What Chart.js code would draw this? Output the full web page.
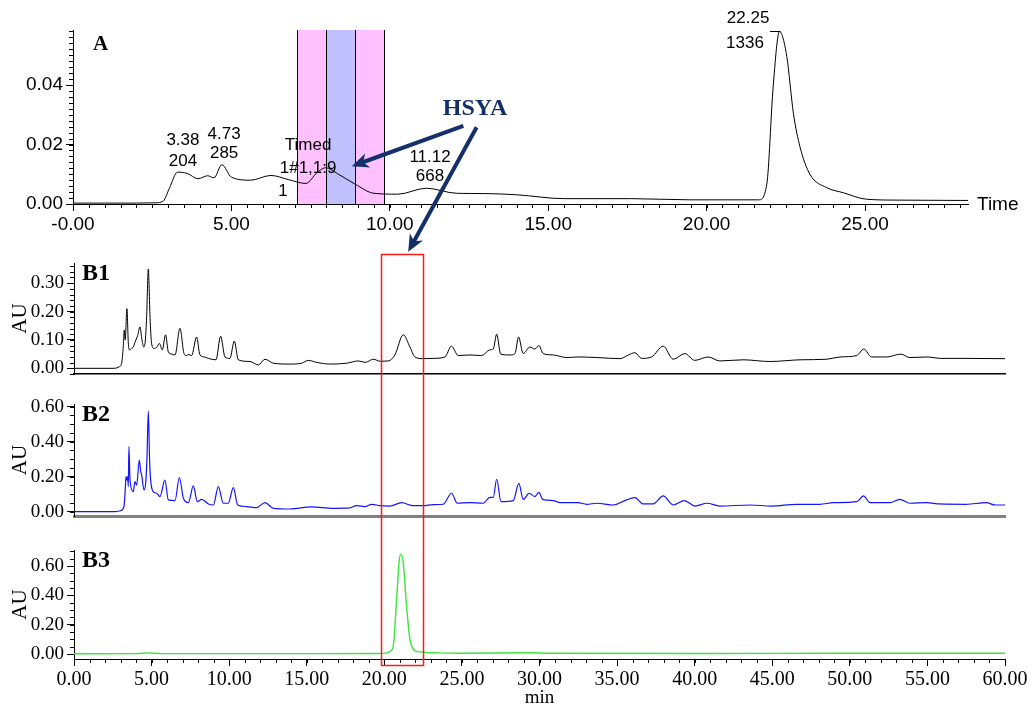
<!DOCTYPE html>
<html>
<head>
<meta charset="utf-8">
<title>HSYA chromatograms</title>
<script src="https://cdn.jsdelivr.net/npm/chart.js@4.4.1/dist/chart.umd.min.js"></script>
<style>
  body { margin: 0; background: #fff; }
  #page { position: relative; width: 1033px; height: 708px; overflow: hidden; }
  .panel { position: absolute; left: 0; }
  #overlay { position: absolute; left: 0; top: 0; z-index: 5; pointer-events: none; }
</style>
</head>
<body>
<div id="page">
  <canvas class="panel" id="chartA" width="1033" height="245" style="top:0px"></canvas>
  <canvas class="panel" id="chartB1" width="1033" height="130" style="top:250px"></canvas>
  <canvas class="panel" id="chartB2" width="1033" height="135" style="top:390px"></canvas>
  <canvas class="panel" id="chartB3" width="1033" height="168" style="top:540px"></canvas>
  <canvas id="overlay" width="1033" height="708"></canvas>
</div>
<script>
// ---- panel A (preparative run) ----
const aTime = [0, 1, 2, 2.6, 2.85, 3.05, 3.3, 3.6, 3.95, 4.25, 4.45, 4.7, 5.0, 5.6, 6.25, 6.8, 7.35, 7.7, 7.98,
  8.35, 8.9, 9.5, 10.25, 11.15, 12.1, 13.0, 14.0, 15.5, 17.6, 19.5, 21.65, 21.9, 22.1, 22.3, 22.53, 22.74,
  22.95, 23.26, 23.79, 24.31, 25.05, 26.1, 28.0, 28.25];
const aAbs = [0.0003, 0.0003, 0.0003, 0.0004, 0.001, 0.0055, 0.0107, 0.0103, 0.0085, 0.0095, 0.0088, 0.0132,
  0.009, 0.008, 0.0096, 0.0082, 0.0069, 0.0105, 0.0122, 0.0102, 0.0067, 0.0036, 0.0033, 0.0053, 0.0036,
  0.0035, 0.0031, 0.0018, 0.0018, 0.0014, 0.0014, 0.0067, 0.0394, 0.058, 0.0496, 0.0304, 0.0191, 0.010,
  0.0055, 0.0038, 0.0016, 0.0013, 0.0012, 0.0012];
const aTicksX = [0, 5, 10, 15, 20, 25];
const aTicksY = [0, 0.02, 0.04];
const bandEdges = [7.07, 7.99, 8.9, 9.82];
const bandColors = ['#ffc0ff', '#c0c0ff', '#ffc0ff'];
const peakText = ['3.38', '204', '4.73', '285', 'Timed', '1#1,1:9', '1', '11.12', '668', '22.25', '1336'];
const peakTextX = [3.47, 3.47, 4.77, 4.77, 7.42, 7.42, 6.63, 11.27, 11.27, 21.31, 21.21];
const peakTextY = [0.0213, 0.0143, 0.0233, 0.017, 0.0197, 0.012, 0.0043, 0.0157, 0.0093, 0.0623, 0.054];
const leaderX = [22.0, 22.33];
const leaderY = 0.058;

// ---- panels B1-B3 (analytical runs) ----
const b1Time = [0, 2.6, 2.9, 3.07, 3.18, 3.24, 3.3, 3.41, 3.5, 3.57, 3.7, 3.82, 3.92, 3.99, 4.1, 4.25, 4.38,
  4.5, 4.6, 4.68, 4.79, 4.9, 5.0, 5.16, 5.35, 5.5, 5.69, 5.9, 6.08, 6.3, 6.51, 6.83, 7.09, 7.25, 7.37, 7.58,
  7.9, 8.12, 8.4, 8.66, 9.15, 9.45, 9.73, 10.05, 10.33, 10.59, 11.34, 11.88, 12.31, 12.85, 13.92, 14.67,
  15.1, 15.64, 16.5, 17.57, 18.33, 18.76, 19.3, 19.72, 20.25, 20.68, 21.22, 21.65, 21.97, 22.5, 23.15, 23.9,
  24.33, 24.76, 25.52, 26.27, 26.8, 27.02, 27.24, 27.5, 28.1, 28.42, 28.65, 28.95, 29.38, 29.7, 29.96,
  30.24, 30.9, 31.75, 32.5, 33.69, 35.19, 35.73, 36.15, 36.58, 37.22, 37.97, 38.62, 39.37, 40.0, 40.87,
  41.62, 43.13, 44.85, 46.8, 48.51, 49.37, 50.45, 50.9, 51.4, 52.37, 53.29, 53.87, 55.05, 55.8, 57.5, 60];
const b1AU = [0, 0, 0.005, 0.018, 0.08, 0.135, 0.10, 0.21, 0.09, 0.065, 0.07, 0.075, 0.09, 0.10, 0.115, 0.146,
  0.10, 0.075, 0.10, 0.18, 0.35, 0.18, 0.088, 0.07, 0.075, 0.088, 0.065, 0.118, 0.058, 0.05, 0.047, 0.141,
  0.052, 0.045, 0.049, 0.045, 0.11, 0.047, 0.04, 0.035, 0.03, 0.113, 0.04, 0.035, 0.096, 0.03, 0.024, 0.012,
  0.032, 0.018, 0.015, 0.018, 0.028, 0.021, 0.015, 0.018, 0.026, 0.021, 0.032, 0.025, 0.026, 0.047, 0.118,
  0.075, 0.04, 0.034, 0.035, 0.04, 0.078, 0.045, 0.047, 0.045, 0.065, 0.068, 0.12, 0.05, 0.047, 0.052, 0.11,
  0.052, 0.075, 0.068, 0.08, 0.052, 0.047, 0.038, 0.04, 0.038, 0.034, 0.047, 0.055, 0.035, 0.04, 0.078,
  0.032, 0.052, 0.028, 0.04, 0.026, 0.03, 0.024, 0.03, 0.032, 0.04, 0.045, 0.068, 0.04, 0.04, 0.05, 0.038,
  0.04, 0.035, 0.035, 0.034];

const b2Time = [0, 2.6, 3.0, 3.22, 3.3, 3.35, 3.41, 3.46, 3.5, 3.54, 3.6, 3.65, 3.82, 3.93, 4.04, 4.21, 4.3,
  4.36, 4.51, 4.62, 4.7, 4.79, 4.87, 4.94, 5.11, 5.33, 5.54, 5.86, 6.08, 6.51, 6.79, 7.05, 7.37, 7.69, 7.95,
  8.23, 8.66, 8.98, 9.3, 9.62, 9.94, 10.27, 10.55, 11.13, 11.77, 12.31, 12.85, 13.92, 15.31, 16.71, 17.78,
  18.21, 18.75, 19.18, 19.72, 20.36, 21.11, 21.86, 22.5, 23.15, 23.79, 24.33, 24.7, 25.52, 26.37, 26.8,
  27.02, 27.24, 27.52, 28.31, 28.67, 28.95, 29.34, 29.7, 29.96, 30.2, 30.9, 31.32, 32.5, 33.04, 33.69, 34.76,
  35.5, 36.15, 36.69, 37.33, 37.97, 38.62, 39.33, 40.02, 40.8, 41.62, 43.56, 44.95, 46.56, 48.07, 48.93,
  50.45, 50.88, 51.3, 52.59, 53.22, 53.87, 54.94, 55.8, 57.5, 58.8, 59.37, 60];
const b2AU = [0, 0, 0.005, 0.029, 0.12, 0.2, 0.18, 0.2, 0.143, 0.371, 0.2, 0.152, 0.114, 0.171, 0.152, 0.295,
  0.23, 0.21, 0.124, 0.162, 0.3, 0.575, 0.3, 0.18, 0.114, 0.105, 0.086, 0.18, 0.067, 0.063, 0.195, 0.076,
  0.051, 0.147, 0.057, 0.07, 0.044, 0.038, 0.143, 0.048, 0.048, 0.137, 0.038, 0.029, 0.023, 0.051, 0.019,
  0.015, 0.027, 0.019, 0.021, 0.034, 0.029, 0.042, 0.034, 0.032, 0.051, 0.034, 0.034, 0.04, 0.042, 0.105,
  0.048, 0.051, 0.048, 0.082, 0.082, 0.185, 0.057, 0.063, 0.162, 0.07, 0.105, 0.086, 0.11, 0.07, 0.063,
  0.051, 0.051, 0.042, 0.048, 0.038, 0.063, 0.08, 0.044, 0.044, 0.09, 0.038, 0.063, 0.032, 0.048, 0.032,
  0.038, 0.032, 0.042, 0.042, 0.051, 0.057, 0.09, 0.051, 0.051, 0.07, 0.048, 0.051, 0.044, 0.042, 0.051,
  0.038, 0.038];

const b3Time = [0, 4.0, 4.8, 5.6, 10, 15, 19.5, 20.2, 20.4, 20.57, 20.79, 20.96, 21.07, 21.22, 21.43, 21.65,
  21.85, 22.1, 22.5, 23.5, 25, 29.5, 30.5, 40, 50, 60];
const b3AU = [0.002, 0.003, 0.008, 0.003, 0.003, 0.003, 0.004, 0.008, 0.02, 0.05, 0.37, 0.64, 0.682, 0.62,
  0.33, 0.1, 0.035, 0.018, 0.012, 0.008, 0.005, 0.009, 0.005, 0.004, 0.005, 0.005];

const bTicksX = [0, 5, 10, 15, 20, 25, 30, 35, 40, 45, 50, 55, 60];
const b1TicksY = [0, 0.1, 0.2, 0.3];
const b2TicksY = [0, 0.2, 0.4, 0.6];
const b3TicksY = [0, 0.2, 0.4, 0.6];

// HSYA window and arrows (data coordinates)
const boxTime = [19.78, 22.49];
const boxTopAU = 0.4026;      // on the B1 scale
const boxBottomAU = -0.075;   // on the B3 scale
const hsyaPos = [12.69, 0.0319];
const arrow1 = [12.32, 0.0263, 8.8, 0.0127];   // A scale
const arrow2Tail = [12.74, 0.0258];            // A scale
const arrow2Head = [21.54, 0.4107];            // B1 scale

const SANS = "'Liberation Sans', Arial, sans-serif";
const SERIF = "'Liberation Serif', 'Times New Roman', serif";
const NAVY = '#14306b';

function pts(xs, ys) {
  return xs.map((x, i) => ({ x: x, y: ys[i] }));
}

const decor = {
  id: 'decor',
  beforeDatasetsDraw(chart, args, o) {
    if (!o.bands) return;
    const { ctx, chartArea: a } = chart;
    const x = chart.scales.x;
    ctx.save();
    for (let i = 0; i < o.bands.colors.length; i++) {
      const x1 = x.getPixelForValue(o.bands.edges[i]);
      const x2 = x.getPixelForValue(o.bands.edges[i + 1]);
      ctx.fillStyle = o.bands.colors[i];
      ctx.fillRect(x1, a.top, x2 - x1, a.bottom - a.top);
    }
    ctx.strokeStyle = '#000';
    ctx.lineWidth = 1;
    o.bands.edges.forEach(e => {
      const px = Math.round(x.getPixelForValue(e)) + 0.5;
      ctx.beginPath();
      ctx.moveTo(px, a.top);
      ctx.lineTo(px, a.bottom);
      ctx.stroke();
    });
    ctx.restore();
  },
  afterDraw(chart, args, o) {
    const { ctx, chartArea: a } = chart;
    const x = chart.scales.x, y = chart.scales.y;
    ctx.save();
    ctx.strokeStyle = '#000';
    ctx.lineWidth = 1;
    // minor ticks
    ctx.beginPath();
    if (o.minorX) {
      for (let i = Math.ceil(x.min / o.minorX); i * o.minorX <= x.max + 1e-9; i++) {
        const px = Math.round(x.getPixelForValue(i * o.minorX)) + 0.5;
        ctx.moveTo(px, a.bottom);
        ctx.lineTo(px, a.bottom + 4);
      }
    }
    if (o.minorY) {
      for (let i = Math.ceil(y.min / o.minorY); i * o.minorY <= y.max + 1e-9; i++) {
        const py = Math.round(y.getPixelForValue(i * o.minorY)) + 0.5;
        ctx.moveTo(a.left - 4, py);
        ctx.lineTo(a.left, py);
      }
    }
    ctx.stroke();
    // panel letter
    ctx.fillStyle = '#000';
    ctx.textBaseline = 'middle';
    ctx.textAlign = 'left';
    ctx.font = o.panelFont;
    ctx.fillText(o.panel, a.left + o.panelDx, a.top + o.panelDy);
    // peak annotations
    if (o.texts) {
      ctx.font = '17px ' + SANS;
      ctx.textAlign = 'center';
      o.texts.forEach((t, i) => {
        ctx.fillText(t, x.getPixelForValue(o.textX[i]), y.getPixelForValue(o.textY[i]));
      });
      const ly = Math.round(y.getPixelForValue(o.leaderY)) + 0.5;
      ctx.beginPath();
      ctx.moveTo(x.getPixelForValue(o.leaderX[0]), ly);
      ctx.lineTo(x.getPixelForValue(o.leaderX[1]), ly);
      ctx.stroke();
      ctx.textAlign = 'left';
      ctx.font = '19px ' + SANS;
      ctx.fillText('Time', a.right + 9, a.bottom + 1);
    }
    ctx.restore();
  }
};
Chart.register(decor);

function axisX(min, max, ticks, opts) {
  return Object.assign({
    type: 'linear', min: min, max: max,
    afterBuildTicks: s => { s.ticks = ticks.map(v => ({ value: v })); },
    ticks: { autoSkip: false, maxRotation: 0, color: '#000', padding: 2 },
    grid: { drawOnChartArea: false, tickLength: 7, tickColor: '#000' },
    border: { color: '#000', width: 1 }
  }, opts);
}

function axisY(min, max, ticks, font) {
  return {
    min: min, max: max,
    afterBuildTicks: s => { s.ticks = ticks.map(v => ({ value: v })); },
    afterFit: s => { s.width = 74; s.paddingTop = 0; s.paddingBottom = 0; },
    ticks: { callback: v => v.toFixed(2), font: font, color: '#000', padding: 3 },
    grid: { drawOnChartArea: false, tickLength: 7, tickColor: '#000' },
    border: { color: '#000', width: 1 }
  };
}

const chartA = new Chart(document.getElementById('chartA'), {
  type: 'line',
  data: { datasets: [{ data: pts(aTime, aAbs), borderColor: '#000', borderWidth: 1, pointRadius: 0,
    cubicInterpolationMode: 'monotone', clip: false }] },
  options: {
    responsive: false, animation: false, events: [],
    layout: { autoPadding: false, padding: { left: 0, right: 65, top: 30, bottom: 0 } },
    plugins: {
      legend: { display: false }, tooltip: { enabled: false },
      decor: { minorX: 0.5, minorY: 0.002, panel: 'A', panelFont: 'bold 21px ' + SERIF, panelDx: 20, panelDy: 15,
        bands: { edges: bandEdges, colors: bandColors },
        texts: peakText, textX: peakTextX, textY: peakTextY, leaderX: leaderX, leaderY: leaderY }
    },
    scales: {
      x: axisX(0, 28.25, aTicksX, {
        afterFit: s => { s.height = 41; s.paddingLeft = 0; s.paddingRight = 0; },
        ticks: { callback: v => v === 0 ? '-0.00' : v.toFixed(2), font: { family: SANS, size: 19 },
          autoSkip: false, maxRotation: 0, color: '#000', padding: 2 }
      }),
      y: Object.assign(axisY(0, 0.0585, aTicksY, { family: SANS, size: 19 }),
        { afterFit: s => { s.width = 73; s.paddingTop = 0; s.paddingBottom = 0; } })
    }
  }
});

function bChart(id, times, values, color, width, yMin, yMax, yTicks, minorY, panel, padTop, xHeight, xAxisOpts, titleX) {
  const serif = { family: SERIF, size: 19 };
  const y = axisY(yMin, yMax, yTicks, serif);
  y.title = { display: true, text: 'AU', color: '#000', font: { family: SERIF, size: 21 }, padding: { top: 8, bottom: 0 } };
  const x = axisX(0, 60, bTicksX, Object.assign({
    afterFit: s => { s.height = xHeight; s.paddingLeft = 0; s.paddingRight = 0; }
  }, xAxisOpts));
  if (titleX) x.title = { display: true, text: 'min', color: '#000', font: { family: SERIF, size: 19, lineHeight: 1 }, padding: { top: 0, bottom: 0 } };
  return new Chart(document.getElementById(id), {
    type: 'line',
    data: { datasets: [{ data: pts(times, values), borderColor: color, borderWidth: width, pointRadius: 0,
      cubicInterpolationMode: 'monotone', clip: false }] },
    options: {
      responsive: false, animation: false, events: [],
      layout: { autoPadding: false, padding: { left: 0, right: 28, top: padTop, bottom: 0 } },
      plugins: {
        legend: { display: false }, tooltip: { enabled: false },
        decor: { minorX: titleX ? 1 : 0, minorY: minorY, panel: panel, panelFont: 'bold 24px ' + SERIF, panelDx: 8, panelDy: 11 }
      },
      scales: { x: x, y: y }
    }
  });
}

const hiddenX = { ticks: { display: false }, grid: { drawOnChartArea: false, drawTicks: false } };

const chartB1 = bChart('chartB1', b1Time, b1AU, '#000', 1, -0.02, 0.371, b1TicksY, 0.02, 'B1', 13, 6,
  Object.assign({}, hiddenX, { border: { color: '#000', width: 1.5 } }), false);
const chartB2 = bChart('chartB2', b2Time, b2AU, '#1414ff', 1.2, -0.025, 0.615, b2TicksY, 0.05, 'B2', 14, 9,
  Object.assign({}, hiddenX, { border: { color: '#808080', width: 3 } }), false);
const chartB3 = bChart('chartB3', b3Time, b3AU, '#3ae63a', 1.4, -0.034, 0.71, b3TicksY, 0.05, 'B3', 10, 49,
  { ticks: { callback: v => v.toFixed(2), font: { family: SERIF, size: 20 }, autoSkip: false, maxRotation: 0, color: '#000', padding: 2 } }, true);

// ---- overlay: HSYA window and arrows across panels ----
function panelTop(chart) { return chart.canvas.offsetTop; }

function drawArrow(ctx, x1, y1, x2, y2) {
  const ang = Math.atan2(y2 - y1, x2 - x1);
  const head = 17, half = 7.5;
  const bx = x2 - head * Math.cos(ang), by = y2 - head * Math.sin(ang);
  ctx.beginPath();
  ctx.moveTo(x1, y1);
  ctx.lineTo(x2 - 8 * Math.cos(ang), y2 - 8 * Math.sin(ang));
  ctx.stroke();
  ctx.beginPath();
  ctx.moveTo(x2, y2);
  ctx.lineTo(bx + half * Math.sin(ang), by - half * Math.cos(ang));
  ctx.lineTo(x2 - 12 * Math.cos(ang), y2 - 12 * Math.sin(ang));
  ctx.lineTo(bx - half * Math.sin(ang), by + half * Math.cos(ang));
  ctx.closePath();
  ctx.fill();
}

(function drawOverlay() {
  const ctx = document.getElementById('overlay').getContext('2d');
  const ax = chartA.scales.x, ay = chartA.scales.y;
  const b1y = chartB1.scales.y, b3x = chartB3.scales.x, b3y = chartB3.scales.y;
  const topA = panelTop(chartA), topB1 = panelTop(chartB1), topB3 = panelTop(chartB3);

  // red window around the HSYA peak
  const left = Math.round(b3x.getPixelForValue(boxTime[0])) + 0.5;
  const right = Math.round(b3x.getPixelForValue(boxTime[1])) + 0.5;
  const top = Math.round(topB1 + b1y.getPixelForValue(boxTopAU)) + 0.5;
  const bottom = Math.round(topB3 + b3y.getPixelForValue(boxBottomAU)) + 0.5;
  ctx.strokeStyle = '#ff1a1a';
  ctx.lineWidth = 1.5;
  ctx.strokeRect(left, top, right - left, bottom - top);

  // HSYA label and arrows
  ctx.fillStyle = NAVY;
  ctx.strokeStyle = NAVY;
  ctx.lineWidth = 4;
  ctx.font = 'bold 24px ' + SERIF;
  ctx.textAlign = 'center';
  ctx.textBaseline = 'middle';
  ctx.fillText('HSYA', ax.getPixelForValue(hsyaPos[0]), topA + ay.getPixelForValue(hsyaPos[1]));
  drawArrow(ctx,
    ax.getPixelForValue(arrow1[0]), topA + ay.getPixelForValue(arrow1[1]),
    ax.getPixelForValue(arrow1[2]), topA + ay.getPixelForValue(arrow1[3]));
  drawArrow(ctx,
    ax.getPixelForValue(arrow2Tail[0]), topA + ay.getPixelForValue(arrow2Tail[1]),
    b3x.getPixelForValue(arrow2Head[0]), topB1 + b1y.getPixelForValue(arrow2Head[1]));
})();
</script>
</body>
</html>
